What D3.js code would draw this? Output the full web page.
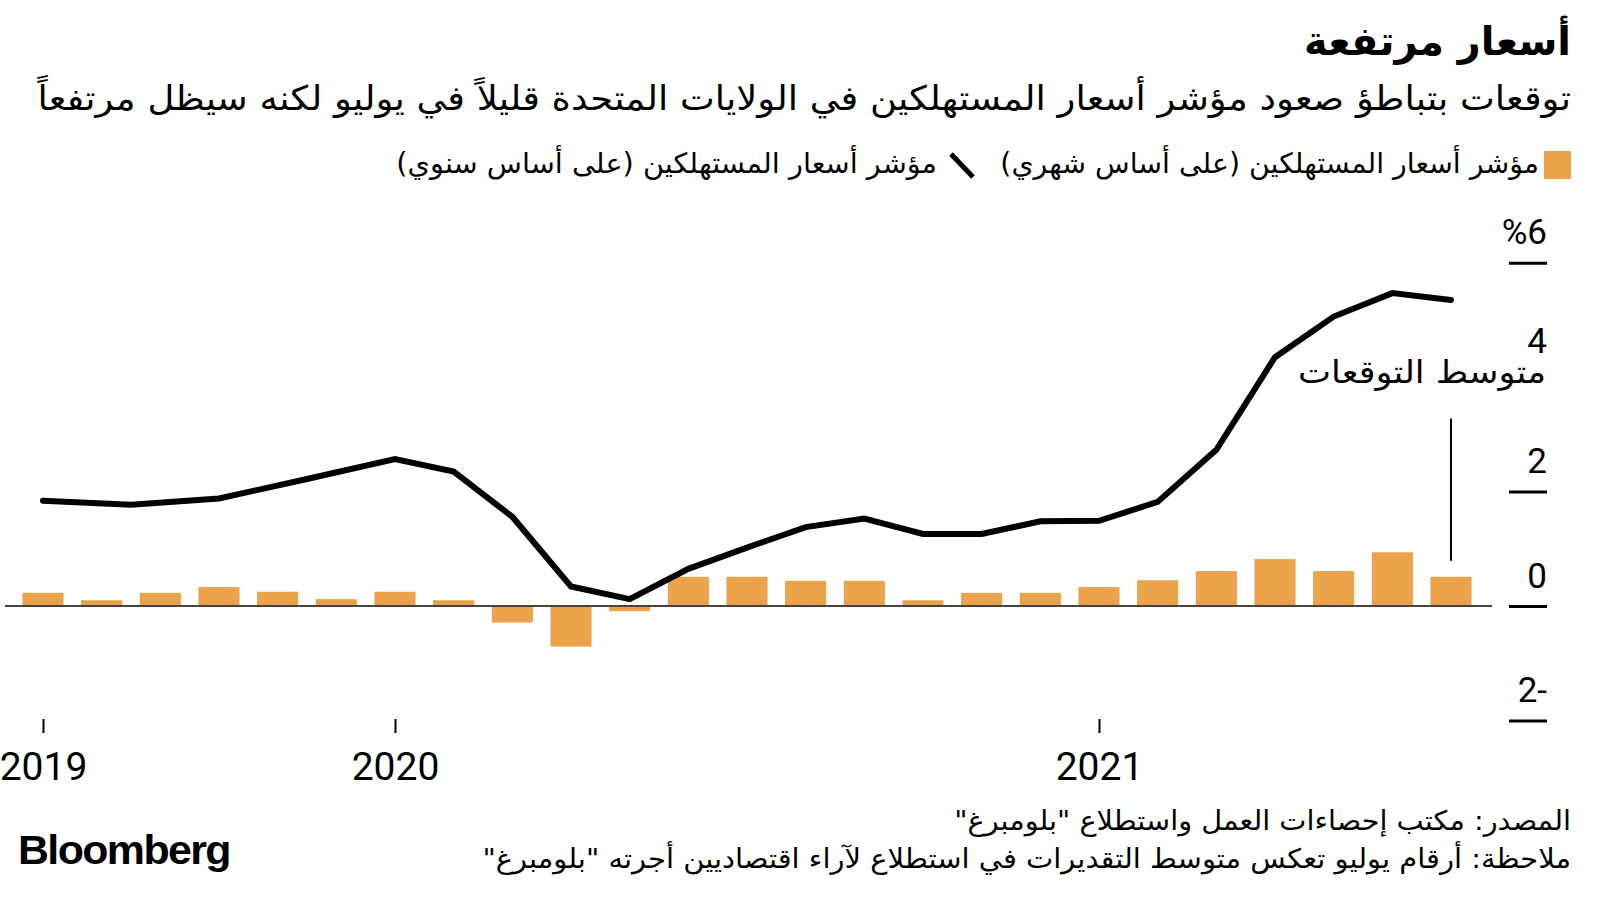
<!DOCTYPE html>
<html lang="ar">
<head>
<meta charset="utf-8">
<script src="https://cdn.jsdelivr.net/npm/d3@7"></script>
<style>
  html, body { margin: 0; padding: 0; background: #fff; }
  svg { display: block; }
  .ar { font-family: "DejaVu Sans", sans-serif; fill: #000; }
  .num { font-family: Roboto, "Liberation Sans", sans-serif; fill: #000; }
</style>
</head>
<body>
<svg id="chart" width="1600" height="900"></svg>
<script>
// ---------------- data ----------------
const barMonths = ["2019-01","2019-03","2019-05","2019-07","2019-09","2019-11",
  "2020-01","2020-02","2020-03","2020-04","2020-05","2020-06","2020-07","2020-08","2020-09","2020-10","2020-11","2020-12",
  "2021-01","2021-02","2021-03","2021-04","2021-05","2021-06","2021-07"];
const barValues = [0.23,0.10,0.23,0.33,0.25,0.12,
  0.25,0.10,-0.29,-0.71,-0.09,0.51,0.51,0.44,0.44,0.10,0.23,0.23,
  0.33,0.45,0.61,0.82,0.61,0.94,0.51];

const lineMonths = ["2019-01","2019-04","2019-07","2019-10",
  "2020-01","2020-02","2020-03","2020-04","2020-05","2020-06","2020-07","2020-08","2020-09","2020-10","2020-11","2020-12",
  "2021-01","2021-02","2021-03","2021-04","2021-05","2021-06","2021-07"];
const lineValues = [1.84,1.77,1.88,2.22,
  2.57,2.35,1.56,0.34,0.12,0.65,1.02,1.38,1.53,1.26,1.26,1.48,
  1.49,1.82,2.73,4.35,5.06,5.47,5.35];

const yTickValues = [-2, 0, 2, 4, 6];
const yTickLabels = ["2-", "0", "2", "4", "%6"];
const xTickMonths = ["2019-01", "2020-01", "2021-01"];
const xTickLabels = ["2019", "2020", "2021"];

const title = "أسعار مرتفعة";
const subtitle = "توقعات بتباطؤ صعود مؤشر أسعار المستهلكين في الولايات المتحدة قليلاً في يوليو لكنه سيظل مرتفعاً";
const legendBar = "مؤشر أسعار المستهلكين (على أساس شهري)";
const legendLine = "مؤشر أسعار المستهلكين (على أساس سنوي)";
const annotationText = "متوسط التوقعات";
const sourceText = "المصدر: مكتب إحصاءات العمل واستطلاع \"بلومبرغ\"";
const noteText = "ملاحظة: أرقام يوليو تعكس متوسط التقديرات في استطلاع لآراء اقتصاديين أجرته \"بلومبرغ\"";

// ---------------- helpers ----------------
const monthIndex = s => { const [y, m] = s.split("-").map(Number); return (y - 2019) * 12 + (m - 1); };

const svg = d3.select("#chart");
const orange = "#EBA34B";

// piecewise scale: 2019 is drawn at half the monthly spacing of 2020-2021
const x = d3.scaleLinear().domain([0, 12, 30]).range([43, 395, 1451]);
const y = d3.scaleLinear().domain([-2, 6]).range([720.4, 262.8]);
const step = x(13) - x(12);
const barW = step * 0.70;

function fitText(sel, left, right) {
  const bb = sel.node().getBBox();
  const k = (right - left) / bb.width;
  sel.attr("transform", `translate(${left},0) scale(${k},1) translate(${-bb.x},0)`);
}

// ---------------- header ----------------
const tTitle = svg.append("text").attr("class", "ar").attr("direction", "rtl")
  .attr("x", 1571).attr("y", 55).attr("font-size", 40).attr("font-weight", "bold").text(title);
fitText(tTitle, 1304, 1571);

const tSub = svg.append("text").attr("class", "ar").attr("direction", "rtl")
  .attr("x", 1571).attr("y", 110).attr("font-size", 34).text(subtitle);
fitText(tSub, 36, 1571);

// legend
svg.append("rect").attr("x", 1544).attr("y", 151).attr("width", 27).attr("height", 28).attr("fill", orange);
const tLeg1 = svg.append("text").attr("class", "ar").attr("direction", "rtl")
  .attr("x", 1539).attr("y", 173).attr("font-size", 28).text(legendBar);
fitText(tLeg1, 1000, 1539);
svg.append("line").attr("x1", 951).attr("y1", 154).attr("x2", 973).attr("y2", 177)
  .attr("stroke", "#000").attr("stroke-width", 5);
const tLeg2 = svg.append("text").attr("class", "ar").attr("direction", "rtl")
  .attr("x", 937).attr("y", 173).attr("font-size", 28).text(legendLine);
fitText(tLeg2, 396, 937);

// ---------------- chart ----------------
const bars = barMonths.map((m, i) => ({ m: monthIndex(m), v: barValues[i] }));
const pts = lineMonths.map((m, i) => ({ m: monthIndex(m), v: lineValues[i] }));

svg.append("g").selectAll("rect").data(bars).join("rect")
  .attr("x", d => x(d.m) - barW / 2)
  .attr("width", barW)
  .attr("y", d => y(Math.max(0, d.v)))
  .attr("height", d => Math.abs(y(d.v) - y(0)))
  .attr("fill", orange);

// zero baseline
svg.append("line").attr("x1", 5).attr("x2", 1492).attr("y1", y(0)).attr("y2", y(0))
  .attr("stroke", "#444").attr("stroke-width", 2);

// y axis
const yAxis = d3.axisLeft(y).tickValues(yTickValues).tickSize(38)
  .tickFormat((d, i) => yTickLabels[i]);
const gy = svg.append("g").attr("transform", "translate(1547,0)").call(yAxis);
gy.select(".domain").remove();
gy.selectAll(".tick line").attr("stroke", "#000").attr("stroke-width", 3);
gy.selectAll(".tick text").attr("class", "num").attr("x", 0)
  .attr("dy", d => d === 4 ? -25 : -19)
  .attr("text-anchor", "end").attr("font-size", 35).attr("fill", "#000");

// x axis
const xAxis = d3.axisBottom(x).tickValues(xTickMonths.map(monthIndex)).tickSize(14)
  .tickFormat((d, i) => xTickLabels[i]);
const gx = svg.append("g").attr("transform", "translate(0,719)").call(xAxis);
gx.select(".domain").remove();
gx.selectAll(".tick line").attr("stroke", "#000").attr("stroke-width", 2);
gx.selectAll(".tick text").attr("class", "num").attr("y", 61).attr("dy", 0)
  .attr("font-size", 39).attr("fill", "#000");

// annotation background (hides the 4 tick line)
const annY = 383;
svg.append("rect").attr("x", 1296).attr("y", 356).attr("width", 254).attr("height", 38).attr("fill", "#fff");

// line
const lineGen = d3.line().x(d => x(d.m)).y(d => y(d.v));
svg.append("path").datum(pts).attr("d", lineGen)
  .attr("fill", "none").attr("stroke", "#000").attr("stroke-width", 6)
  .attr("stroke-linecap", "round").attr("stroke-linejoin", "miter");

// forecast annotation
const last = bars[bars.length - 1];
svg.append("line").attr("x1", x(last.m)).attr("x2", x(last.m))
  .attr("y1", y(last.v) - 16).attr("y2", y(3.28))
  .attr("stroke", "#000").attr("stroke-width", 2);
const tAnn = svg.append("text").attr("class", "ar").attr("direction", "rtl")
  .attr("x", 1546).attr("y", annY).attr("font-size", 32).text(annotationText);
fitText(tAnn, 1298, 1546);

// ---------------- footer ----------------
const tSrc = svg.append("text").attr("class", "ar").attr("direction", "rtl")
  .attr("x", 1571).attr("y", 830).attr("font-size", 27).text(sourceText);
fitText(tSrc, 954, 1571);
const tNote = svg.append("text").attr("class", "ar").attr("direction", "rtl")
  .attr("x", 1571).attr("y", 868).attr("font-size", 27).text(noteText);
fitText(tNote, 482, 1571);

const tLogo = svg.append("text").attr("x", 18).attr("y", 864)
  .attr("font-family", "'Liberation Sans', Arial, sans-serif").attr("font-weight", "bold")
  .attr("font-size", 40).attr("letter-spacing", -1.5).attr("fill", "#000").text("Bloomberg");
fitText(tLogo, 18, 230);
</script>
</body>
</html>
